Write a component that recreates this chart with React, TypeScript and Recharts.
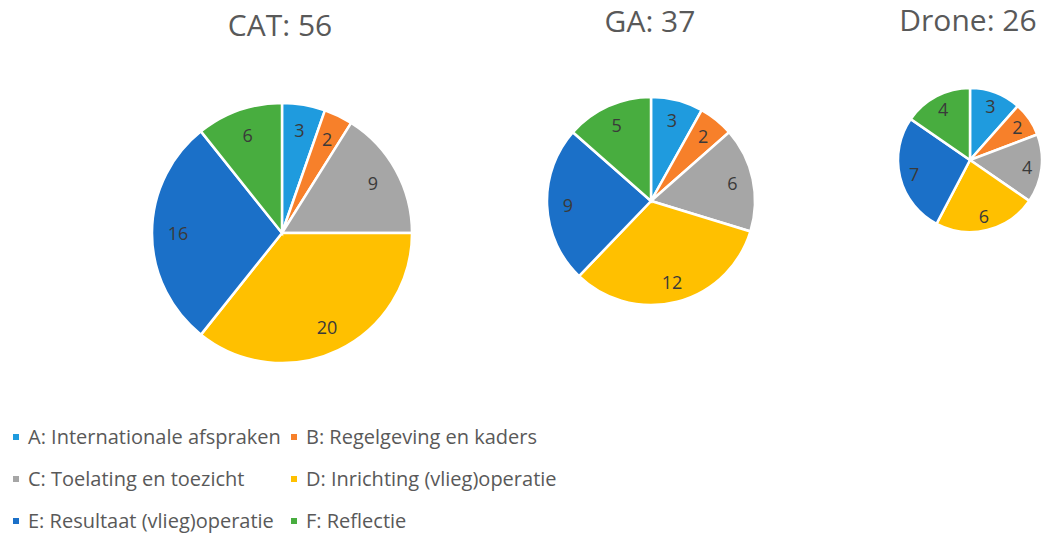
import React from 'react';
import { PieChart, Pie, Cell } from 'recharts';

const categories = [
  'A: Internationale afspraken',
  'B: Regelgeving en kaders',
  'C: Toelating en toezicht',
  'D: Inrichting (vlieg)operatie',
  'E: Resultaat (vlieg)operatie',
  'F: Reflectie',
];
const colors = ['#1f9bde', '#f7802a', '#a6a6a6', '#ffc000', '#1b70c8', '#48ad3f'];

const catValues = [3, 2, 9, 20, 16, 6];
const gaValues = [3, 2, 6, 12, 9, 5];
const droneValues = [3, 2, 4, 6, 7, 4];

const titles = ['CAT: 56', 'GA: 37', 'Drone: 26'];

const toData = (vals: number[]) => vals.map((v, i) => ({ name: categories[i], value: v }));

const pies = [
  { key: 'cat', data: toData(catValues), cx: 282, cy: 233, r: 130, title: titles[0], tx: 280, ty: 37 },
  { key: 'ga', data: toData(gaValues), cx: 651, cy: 201, r: 104, title: titles[1], tx: 650, ty: 33 },
  { key: 'drone', data: toData(droneValues), cx: 970, cy: 160, r: 72, title: titles[2], tx: 968, ty: 32 },
];

const RAD = Math.PI / 180;
const renderLabel = (props: any) => {
  const { cx, cy, midAngle, outerRadius, value } = props;
  const r = outerRadius * 0.8;
  const x = cx + r * Math.cos(-midAngle * RAD);
  const y = cy + r * Math.sin(-midAngle * RAD);
  return (
    <text x={x} y={y} fill="#3a3a3a" fontSize={18} fontFamily="'Open Sans', sans-serif" textAnchor="middle" dominantBaseline="central">
      {value}
    </text>
  );
};

export default function App() {
  return (
    <div style={{ position: 'absolute', left: 0, top: 0, width: 1042, height: 533, background: '#fff', overflow: 'hidden' }}>
      {pies.map((p) => (
        <div key={p.key} style={{ position: 'absolute', left: 0, top: 0 }}>
          <PieChart width={1042} height={533} margin={{ top: 0, right: 0, bottom: 0, left: 0 }}>
            <Pie
              data={p.data}
              dataKey="value"
              nameKey="name"
              cx={p.cx}
              cy={p.cy}
              outerRadius={p.r}
              startAngle={90}
              endAngle={-270}
              stroke="#ffffff"
              strokeWidth={2.5}
              label={renderLabel}
              labelLine={false}
              isAnimationActive={false}
            >
              {p.data.map((d, i) => (
                <Cell key={d.name} fill={colors[i]} />
              ))}
            </Pie>
          </PieChart>
        </div>
      ))}
      {pies.map((p) => (
        <div
          key={p.key + 't'}
          style={{
            position: 'absolute',
            left: p.tx - 100,
            top: p.ty - 32,
            width: 200,
            textAlign: 'center',
            fontFamily: "'Open Sans', sans-serif",
            fontSize: 30,
            lineHeight: '40px',
            color: '#595959',
            whiteSpace: 'nowrap',
          }}
        >
          {p.title}
        </div>
      ))}
      <div style={{ position: 'absolute', left: 0, top: 0, fontFamily: "'Open Sans', sans-serif", fontSize: 20, color: '#595959' }}>
        {categories.map((c, i) => {
          const col = i % 2;
          const row = Math.floor(i / 2);
          return (
            <div
              key={c}
              style={{
                position: 'absolute',
                left: col === 0 ? 13 : 291,
                top: 437 + row * 42 - 13,
                height: 26,
                whiteSpace: 'nowrap',
                display: 'flex',
                alignItems: 'center',
              }}
            >
              <span style={{ display: 'inline-block', width: 6, height: 6, background: colors[i], marginRight: 9 }} />
              <span style={{ lineHeight: '26px' }}>{c}</span>
            </div>
          );
        })}
      </div>
    </div>
  );
}
